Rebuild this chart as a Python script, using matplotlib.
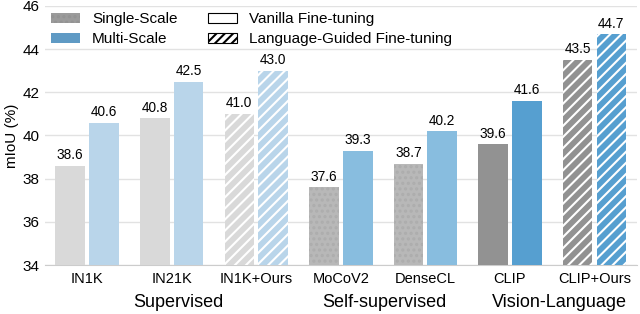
import numpy as np
import matplotlib
matplotlib.use("Agg")
import matplotlib.pyplot as plt
from matplotlib.patches import Patch
import matplotlib.transforms as mtransforms

# ── DATA ───────────────────────────────────────────────────────────────────────
categories   = ['IN1K', 'IN21K', 'IN1K+Ours', 'MoCoV2', 'DenseCL', 'CLIP', 'CLIP+Ours']
single_scale = [38.6, 40.8, 41.0, 37.6, 38.7, 39.6, 43.5]
multi_scale  = [40.6, 42.5, 43.0, 39.3, 40.2, 41.6, 44.7]
group_names  = ['Supervised', 'Self-supervised', 'Vision-Language']
group_pos    = [1.08, 3.52, 5.58]

# ── STYLE ──────────────────────────────────────────────────────────────────────
SINGLE_COLS = ['#d9d9d9', '#d9d9d9', '#d9d9d9', '#b8b8b8', '#b8b8b8', '#929292', '#929292']
MULTI_COLS  = ['#b9d5ea', '#b9d5ea', '#b9d5ea', '#88bddf', '#88bddf', '#569fd0', '#569fd0']
HATCHED     = [False, False, True, False, False, False, True]
DOTTED      = [False, False, False, True, True, False, False]
GRID_COL    = '#e2e2e2'

plt.rcParams['font.family'] = ['Liberation Sans', 'DejaVu Sans']
plt.rcParams['hatch.linewidth'] = 1.5

fig = plt.figure(figsize=(6.4, 3.14), dpi=100)
ax = fig.add_axes([0.070, 0.156, 0.925, 0.825])

x = np.arange(len(categories))
W, OFF = 0.35, 0.20

for i in x:
    for val, col, dx in ((single_scale[i], SINGLE_COLS[i], -OFF),
                         (multi_scale[i], MULTI_COLS[i], OFF)):
        if HATCHED[i]:
            ax.bar(i + dx, val - 34, W, bottom=34, color=col, edgecolor='white',
                   hatch='///', linewidth=0, zorder=3)
        elif DOTTED[i] and dx < 0:
            ax.bar(i + dx, val - 34, W, bottom=34, color=col, edgecolor='#adadad',
                   hatch='...', linewidth=0, zorder=3)
        else:
            ax.bar(i + dx, val - 34, W, bottom=34, color=col, linewidth=0, zorder=3)
        ax.annotate(f'{val:.1f}', (i + dx, val), xytext=(0, 2.5),
                    textcoords='offset points', ha='center', va='bottom',
                    fontsize=9.8, zorder=4)

ax.set_xlim(-0.5, 6.5)
ax.set_ylim(34, 46)
ax.set_yticks(np.arange(34, 47, 2))
ax.set_xticks(x)
ax.set_xticklabels(categories, fontsize=10.5)
ax.tick_params(axis='y', length=0, labelsize=11, pad=4)
ax.tick_params(axis='x', length=0, pad=5)
ax.grid(axis='y', color=GRID_COL, lw=1, zorder=0)
ax.set_axisbelow(True)
for s in ('top', 'right', 'left'):
    ax.spines[s].set_visible(False)
ax.spines['bottom'].set_color('#cccccc')
ax.set_ylabel('mIoU (%)', fontsize=11, labelpad=2)

# group labels under the ticks
trans = mtransforms.blended_transform_factory(ax.transData, ax.transAxes)
for name, px in zip(group_names, group_pos):
    ax.text(px, -0.145, name, transform=trans, ha='center', va='center', fontsize=13)

# legend
handles = [
    Patch(facecolor='#9b9b9b', edgecolor='#939393', hatch='...', linewidth=0, label='Single-Scale'),
    Patch(facecolor='#5f9ac4', linewidth=0, label='Multi-Scale'),
    Patch(facecolor='white', edgecolor='black', linewidth=0.8, label='Vanilla Fine-tuning'),
    Patch(facecolor='white', edgecolor='black', hatch='////', linewidth=0.8,
          label='Language-Guided Fine-tuning'),
]
leg = ax.legend(handles=handles, ncol=2, loc='upper left', bbox_to_anchor=(0.0, 1.0),
                frameon=False, fontsize=11, handlelength=1.9, handleheight=0.6,
                handletextpad=0.8, columnspacing=2.0, labelspacing=0.4,
                borderaxespad=0.2, borderpad=0.2)

fig.savefig('out.png', dpi=100)
